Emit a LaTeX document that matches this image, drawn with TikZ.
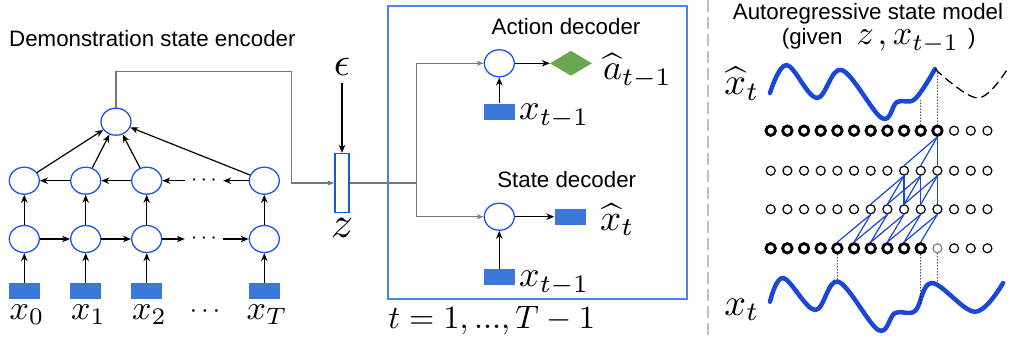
\documentclass[tikz,border=0pt]{standalone}
\usepackage{fix-cm}
\usepackage{fontspec}
\setmainfont{Liberation Sans}
\usetikzlibrary{arrows.meta,shapes.geometric}
\definecolor{cblue}{RGB}{26,85,227}
\definecolor{rblue}{RGB}{60,120,216}
\definecolor{bblue}{RGB}{74,134,232}
\definecolor{cgreen}{RGB}{106,168,79}
\definecolor{wblue}{RGB}{26,72,214}
\definecolor{ggray}{RGB}{120,120,120}
\newcommand{\mlab}[2]{\scalebox{#1}{\fontsize{10}{12}\selectfont$#2$}}
\tikzset{
 unit/.style={ellipse, draw=cblue, line width=1.3pt, minimum width=30pt, minimum height=27pt, inner sep=0pt, fill=white},
 inp/.style={rectangle, fill=rblue, minimum width=31pt, minimum height=16pt, inner sep=0pt},
 arr/.style={-{Stealth[length=8pt,width=6.5pt]}, line width=1.2pt},
 garr/.style={-{Stealth[length=7pt,width=5pt]}, line width=1.2pt, draw=ggray},
 gline/.style={line width=1.2pt, draw=ggray},
 lbl/.style={font=\fontsize{22.3}{26}\selectfont, inner sep=0pt},
 mth/.style={inner sep=0pt},
 rdot/.style={circle, draw, line width=1.2pt, minimum size=9pt, inner sep=0pt},
 tdot/.style={circle, draw, line width=2.8pt, minimum size=9.5pt, inner sep=0pt},
 gdot/.style={rdot, draw=gray},
 conn/.style={draw=wblue, line width=1.2pt},
 wave/.style={draw=wblue, line width=4.5pt, line cap=round, line join=round},
}
\begin{document}
\begin{tikzpicture}[x=1pt,y=-1pt]
\useasboundingbox (0,0) rectangle (1011,339);
% ---------------- left: encoder ----------------
\node[lbl, anchor=base west] (dt) at (9,46.7) {Demonstration state encoder};
\foreach \n/\x in {0/24.3,1/85.7,2/146.7,T/264.3}{
  \node[inp] (r\n) at (\x,291) {};
  \node[unit] (a\n) at (\x,239) {};
  \node[unit] (b\n) at (\x,180.7) {};
}
\node[unit] (top) at (116,121.7) {};
\node[minimum width=38pt, mth] (da) at (204,239) {\mlab{2.2}{\cdots}};
\node[minimum width=38pt, mth] (db) at (204,180.7) {\mlab{2.2}{\cdots}};
\foreach \n in {0,1,2,T}{
  \draw[arr] (r\n) -- (a\n);
  \draw[arr] (a\n) -- (b\n);
  \draw[arr] (b\n) -- (top);
}
\draw[arr] (a0) -- (a1);
\draw[arr] (a1) -- (a2);
\draw[arr] (a2) -- (da);
\draw[arr] (da) -- (aT);
\draw[arr] (b1) -- (b0);
\draw[arr] (b2) -- (b1);
\draw[arr] (db) -- (b2);
\draw[arr] (bT) -- (db);
\node[mth, anchor=base] (l0) at (27,319.3) {\mlab{3.4}{x_0}};
\node[mth, anchor=base] (l1) at (88.5,319.3) {\mlab{3.4}{x_1}};
\node[mth, anchor=base] (l2) at (149.5,319.3) {\mlab{3.4}{x_2}};
\node[mth, anchor=base] (lT) at (267,319.3) {\mlab{3.4}{x_T}};
\node[mth, anchor=base] (ld) at (205,317) {\mlab{2.6}{\cdots}};
% ---------------- latent ----------------
\node[draw=bblue, line width=2.2pt, minimum width=299pt, minimum height=293pt, inner sep=0pt] (box) at (537.8,152.5) {};
\node[rectangle, draw=cblue, line width=1.3pt, fill=white, minimum width=14pt, minimum height=59pt, inner sep=0pt] (zr) at (342,183) {};
\node[mth, anchor=base] (eps) at (342,76) {\mlab{4}{\epsilon}};
\node[mth, anchor=base] (zl) at (342,237) {\mlab{4.4}{z}};
\draw[arr] ([yshift=-7pt]eps.south) -- (zr.north);
\coordinate (g1) at (291.7,71.7);
\draw[garr] (top.north) |- (g1) |- (zr.west);
\coordinate (split) at (416.7,183);
\draw[gline] (zr.east) -- (split);
% ---------------- decoders ----------------
\node[lbl, anchor=base] (actt) at (566,34.3) {Action decoder};
\node[unit] (act) at (499.3,63.3) {};
\node[diamond, fill=cgreen, minimum width=42pt, minimum height=25pt, inner sep=0pt] (dia) at (571,63.3) {};
\node[mth, anchor=base west] (ahat) at (603,80) {\mlab{3.6}{\widehat{a}_{t-1}}};
\node[inp] (xa) at (499.3,111.7) {};
\node[mth, anchor=base west] (xal) at (519,120) {\mlab{3.6}{x_{t-1}}};
\draw[arr] (act) -- (dia);
\draw[arr] (xa) -- (act);
\node[lbl, anchor=base] (stt) at (566.7,187.3) {State decoder};
\node[unit] (st) at (499.3,216.7) {};
\node[inp] (xo) at (570,216.7) {};
\node[mth, anchor=base west] (xhl) at (600,230) {\mlab{3.7}{\widehat{x}_t}};
\node[inp] (xb) at (499.3,276.7) {};
\node[mth, anchor=base west] (xbl) at (519,286.7) {\mlab{3.6}{x_{t-1}}};
\draw[arr] (st) -- (xo);
\draw[arr] (xb) -- (st);
\draw[garr] (split) |- (act.west);
\draw[garr] (split) |- (st.west);
\node[mth, anchor=base] (tl) at (491.7,328) {\mlab{3.25}{t=1,...,T-1}};
% ---------------- divider ----------------
\coordinate (dv1) at (708,0);
\coordinate (dv2) at (708,339);
\draw[black!25, line width=1.5pt, dash pattern=on 12pt off 5pt] (dv1) -- (dv2);
% ---------------- right: autoregressive ----------------
\node[lbl, anchor=base] (rt) at (868,20) {Autoregressive state model};
\node[lbl, anchor=base west] (rg) at (781.7,45) {(given\hspace{14pt}\mlab{3.4}{z\mkern2mu,x_{t-1}}\hspace{9pt})};
\node[mth, anchor=base] (rxh) at (742,95) {\mlab{3.8}{\widehat{x}_t}};
\node[mth, anchor=base] (rx) at (742,315) {\mlab{3.8}{x_t}};
\foreach \i in {0,...,13}{
  \pgfmathsetmacro{\xx}{770.7+16.67*\i}
  \ifnum\i<11
    \node[tdot] (p\i) at (\xx,130.7) {};
  \else
    \node[rdot] (p\i) at (\xx,130.7) {};
  \fi
  \node[rdot] (q\i) at (\xx,170.7) {};
  \node[rdot] (s\i) at (\xx,209.3) {};
  \ifnum\i<10
    \node[tdot] (u\i) at (\xx,248.3) {};
  \else\ifnum\i=10
    \node[gdot] (u\i) at (\xx,248.3) {};
  \else
    \node[rdot] (u\i) at (\xx,248.3) {};
  \fi\fi
}
\foreach \j in {8,9,10}{ \draw[conn] (p10.south) -- (q\j.north); }
\foreach \i in {8,9,10}{
  \foreach \d in {0,1,2}{
    \pgfmathtruncatemacro{\k}{\i-\d}
    \draw[conn] (q\i.south) -- (s\k.north);
  }
}
\foreach \i in {6,...,10}{
  \foreach \d in {1,2}{
    \pgfmathtruncatemacro{\k}{\i-\d}
    \draw[conn] (s\i.south) -- (u\k.north);
  }
}
\draw[wave] plot[smooth, tension=0.6] coordinates {(770,93) (786.7,65) (816.7,98) (841.7,70) (881.7,118) (897,102) (915,99) (935,69)};
\draw[line width=1.3pt, dash pattern=on 9pt off 5pt] plot[smooth, tension=0.6] coordinates {(935,69) (978,98) (1008,68)};
\draw[wave] plot[smooth, tension=0.6] coordinates {(770,301.7) (783.3,278) (815,310) (838.3,281.7) (878.3,330) (895,313) (915,311) (932,283) (975,311.7) (1003,283)};
\coordinate (ct9) at (920.7,100);
\coordinate (ct10) at (937.4,70);
\coordinate (cb4) at (837.4,281);
\coordinate (cb9) at (920.7,305);
\coordinate (cb10) at (937.4,283);
\draw[dotted, line width=1pt] (p9.north) -- (ct9);
\draw[dotted, line width=1pt] (p10.north) -- (ct10);
\draw[dotted, line width=1pt] (u4.south) -- (cb4);
\draw[dotted, line width=1pt] (u9.south) -- (cb9);
\draw[dotted, line width=1pt] (u10.south) -- (cb10);
\end{tikzpicture}
\end{document}
